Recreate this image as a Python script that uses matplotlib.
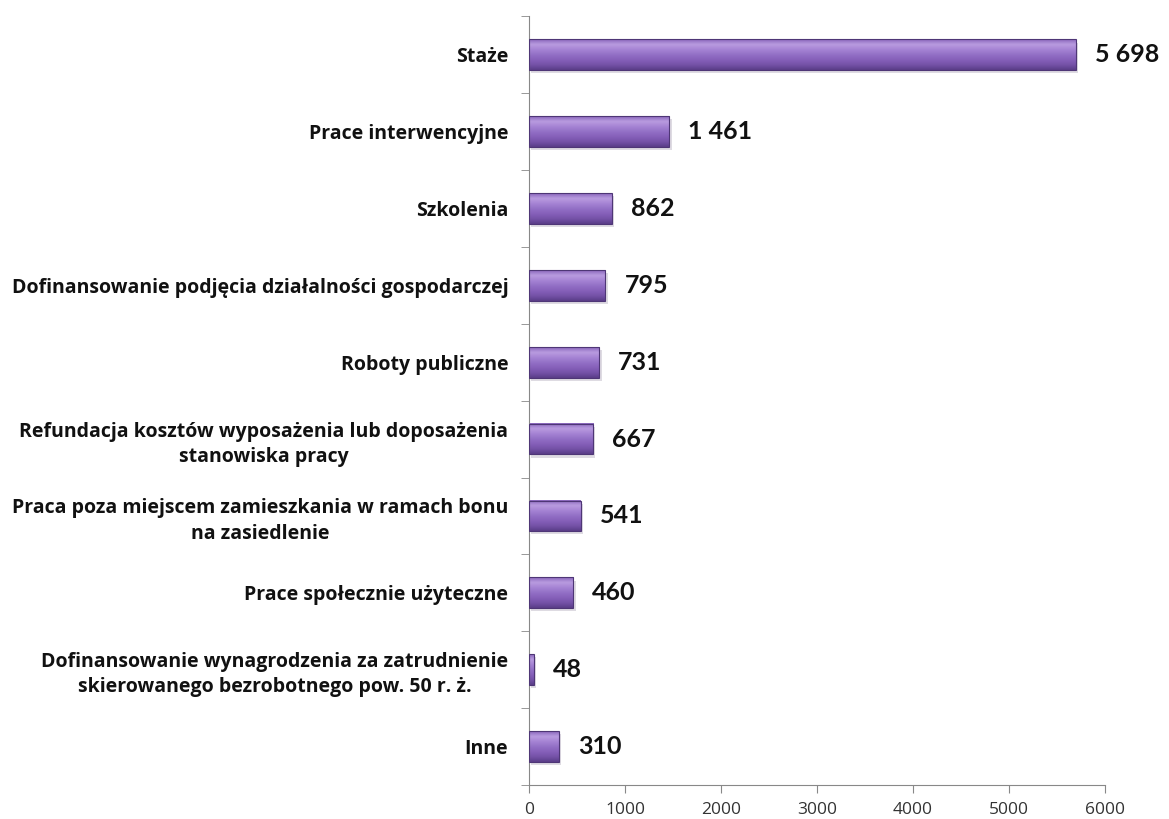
"""Horizontal bar chart of activation programme participants."""

import matplotlib.pyplot as plt
import numpy as np
from matplotlib.colors import LinearSegmentedColormap

categories = [
    "Staże",
    "Prace interwencyjne",
    "Szkolenia",
    "Dofinansowanie podjęcia działalności gospodarczej",
    "Roboty publiczne",
    "Refundacja kosztów wyposażenia lub doposażenia\nstanowiska pracy",
    "Praca poza miejscem zamieszkania w ramach bonu\nna zasiedlenie",
    "Prace społecznie użyteczne",
    "Dofinansowanie wynagrodzenia za zatrudnienie\nskierowanego bezrobotnego pow. 50 r. ż.",
    "Inne",
]
values = [5698, 1461, 862, 795, 731, 667, 541, 460, 48, 310]
value_labels = ["5 698", "1 461", "862", "795", "731", "667", "541", "460", "48", "310"]
x_ticks = [0, 1000, 2000, 3000, 4000, 5000, 6000]

plt.rcParams["font.family"] = ["Open Sans", "DejaVu Sans"]

fig = plt.figure(figsize=(11.69, 8.19), dpi=100)
ax = fig.add_axes([0.4525, 0.0415, 0.4925, 0.9385])

n = len(categories)
y_pos = np.arange(n)[::-1]
bar_h = 0.40

purple = LinearSegmentedColormap.from_list(
    "bar", ["#5a3d88", "#7552a8", "#8660ba", "#9370c6", "#a684d4", "#b99ce0", "#8a66bc"]
)
gradient = np.linspace(0, 1, 64).reshape(-1, 1)

for y, v in zip(y_pos, values):
    # soft shadow under the bar
    ax.barh(y - 0.04, v, height=bar_h, left=25, color="#c9c4cf", alpha=0.6, zorder=1)
    ax.imshow(
        gradient,
        cmap=purple,
        aspect="auto",
        extent=(0, v, y - bar_h / 2, y + bar_h / 2),
        origin="lower",
        zorder=2,
        interpolation="bicubic",
    )
    ax.barh(y, v, height=bar_h, facecolor="none", edgecolor="#4e3676", linewidth=0.8, zorder=3)

for y, v, lab in zip(y_pos, values, value_labels):
    ax.text(v + 200, y, lab, va="center", ha="left", fontsize=18, fontweight="bold",
            color="#111111", family=["Lato", "DejaVu Sans"])

ax.set_xlim(0, 6000)
ax.set_ylim(-0.5, n - 0.5)
ax.set_xticks(x_ticks)
ax.set_xticklabels([str(t) for t in x_ticks], fontsize=12.5, color="#333333")

ax.set_yticks(y_pos)
ax.set_yticklabels(categories, fontsize=14, fontweight="bold", color="#111111",
                   multialignment="center", linespacing=1.35)
ax.tick_params(axis="y", length=0, pad=15)
ax.set_yticks(np.arange(n + 1) - 0.5, minor=True)
ax.tick_params(axis="y", which="minor", length=6, color="#888888")
ax.tick_params(axis="x", length=6, color="#888888", pad=6)

for side in ("top", "right"):
    ax.spines[side].set_visible(False)
for side in ("left", "bottom"):
    ax.spines[side].set_color("#888888")

fig.savefig("out.png", dpi=100)
